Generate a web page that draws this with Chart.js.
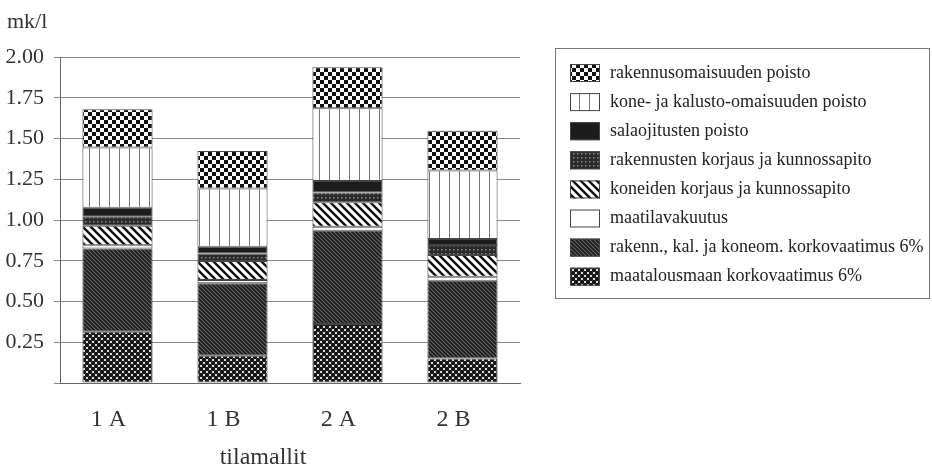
<!DOCTYPE html>
<html>
<head>
<meta charset="utf-8">
<script src="https://cdn.jsdelivr.net/npm/chart.js@4.4.1/dist/chart.umd.min.js"></script>
<style>
  html, body { margin: 0; padding: 0; background: #fff; }
  #wrap { width: 932px; height: 470px; }
</style>
</head>
<body>
<div id="wrap"><canvas id="myChart"></canvas></div>
<script>
// categories (tilamallit)
const malli = ["1 A", "1 B", "2 A", "2 B"];
// series values, mk/l, from bottom of the stack to the top
const maaKorko = [0.315, 0.167, 0.362, 0.151];
const rakKorko = [0.51, 0.445, 0.572, 0.477];
const vakuutus = [0.02, 0.02, 0.025, 0.024];
const koneKorjaus = [0.12, 0.116, 0.15, 0.133];
const rakKorjaus = [0.055, 0.047, 0.059, 0.062];
const salaoj = [0.055, 0.041, 0.071, 0.036];
const konePoisto = [0.37, 0.358, 0.446, 0.42];
const rakPoisto = [0.235, 0.229, 0.252, 0.245];
const yTicks = [0.25, 0.5, 0.75, 1, 1.25, 1.5, 1.75, 2];

const serif = "'Liberation Serif', 'DejaVu Serif', serif";
const ctx0 = document.createElement('canvas').getContext('2d');

// small helper: makes a repeating tile
function tile(w, h, draw) {
    const c = document.createElement('canvas');
    c.width = w; c.height = h;
    const g = c.getContext('2d');
    draw(g, w, h);
    return ctx0.createPattern(c, 'repeat');
}

const patChecker = tile(8, 8, (g) => {
    g.fillStyle = '#fff'; g.fillRect(0, 0, 8, 8);
    g.fillStyle = '#111'; g.fillRect(0, 0, 4, 4); g.fillRect(4, 4, 4, 4);
});
const patVertical = tile(10, 10, (g) => {
    g.fillStyle = '#fff'; g.fillRect(0, 0, 10, 10);
    g.fillStyle = '#777'; g.fillRect(9, 0, 1, 10);
});
const patDots = tile(4, 4, (g) => {
    g.fillStyle = '#2a2a2a'; g.fillRect(0, 0, 4, 4);
    g.fillStyle = '#8a8a8a'; g.fillRect(1, 1, 1.5, 1.5);
});
function diag(size, bg, fg, lw) {
    return tile(size, size, (g, w, h) => {
        g.fillStyle = bg; g.fillRect(0, 0, w, h);
        g.strokeStyle = fg; g.lineWidth = lw;
        g.beginPath();
        g.moveTo(-1, -1); g.lineTo(w + 1, h + 1);
        g.moveTo(-1, h - 1); g.lineTo(1, h + 1);
        g.moveTo(w - 1, -1); g.lineTo(w + 1, 1);
        g.stroke();
    });
}
const patKone = diag(8, '#fff', '#111', 2.4);
const patDense = diag(4, '#666', '#1a1a1a', 1.7);
const patMaa = tile(6, 6, (g) => {
    g.fillStyle = '#fff'; g.fillRect(0, 0, 6, 6);
    g.fillStyle = '#151515';
    [[0, 0], [6, 0], [0, 6], [6, 6], [3, 3]].forEach(p => {
        g.beginPath(); g.arc(p[0], p[1], 2.2, 0, Math.PI * 2); g.fill();
    });
});

function ds(label, data, fill) {
    return {
        label: label,
        data: data,
        backgroundColor: fill,
        borderColor: '#444',
        borderWidth: 1,
        borderSkipped: false,
        barPercentage: 0.61,
        categoryPercentage: 1
    };
}

//custom texts and legend box
const extras = {
    id: 'extras',
    afterDraw(chart) {
        const c = chart.ctx;
        c.save();
        c.fillStyle = '#333';
        c.font = "22px " + serif;
        c.textBaseline = 'middle';
        c.textAlign = 'left';
        c.fillText('mk/l', 7, 22);
        c.font = "24px " + serif;
        c.textAlign = 'center';
        c.fillText('tilamallit', 263, 458);

        // legend
        c.strokeStyle = '#777';
        c.lineWidth = 1;
        c.strokeRect(555.5, 48.5, 374, 250);
        const items = chart.data.datasets.slice().reverse();
        c.font = "18px " + serif;
        c.textAlign = 'left';
        items.forEach((d, i) => {
            const y = 73 + i * 29.1;
            c.fillStyle = d.backgroundColor;
            c.fillRect(570, y - 9, 30, 18);
            c.strokeStyle = '#444';
            c.strokeRect(570.5, y - 8.5, 29, 17);
            c.fillStyle = '#222';
            c.fillText(d.label, 610, y);
        });
        c.restore();
    }
};

new Chart(document.getElementById('myChart'), {
    type: 'bar',
    data: {
        labels: malli,
        datasets: [
            ds('maatalousmaan korkovaatimus 6%', maaKorko, patMaa),
            ds('rakenn., kal. ja koneom. korkovaatimus 6%', rakKorko, patDense),
            ds('maatilavakuutus', vakuutus, '#fff'),
            ds('koneiden korjaus ja kunnossapito', koneKorjaus, patKone),
            ds('rakennusten korjaus ja kunnossapito', rakKorjaus, patDots),
            ds('salaojitusten poisto', salaoj, '#1c1c1c'),
            ds('kone- ja kalusto-omaisuuden poisto', konePoisto, patVertical),
            ds('rakennusomaisuuden poisto', rakPoisto, patChecker)
        ]
    },
    options: {
        responsive: true,
        maintainAspectRatio: false,
        animation: false,
        layout: { padding: { left: 0, right: 412, top: 57, bottom: 0 } },
        plugins: {
            legend: { display: false },
            tooltip: { enabled: false }
        },
        scales: {
            x: {
                stacked: true,
                grid: { display: false },
                border: { display: true, color: '#666' },
                ticks: {
                    color: '#333',
                    padding: 14,
                    labelOffset: -9,
                    font: { family: serif, size: 24 }
                },
                afterFit(scale) { scale.height = 87; }
            },
            y: {
                stacked: true,
                min: 0,
                max: 2,
                afterBuildTicks(scale) {
                    scale.ticks = [0].concat(yTicks).map(v => ({ value: v }));
                },
                grid: { color: '#888', tickLength: 6 },
                border: { color: '#666' },
                ticks: {
                    color: '#333',
                    padding: 10,
                    font: { family: serif, size: 22 },
                    callback: (v) => v === 0 ? '' : v.toFixed(2)
                },
                afterFit(scale) { scale.width = 60; }
            }
        }
    },
    plugins: [extras]
});
</script>
</body>
</html>
